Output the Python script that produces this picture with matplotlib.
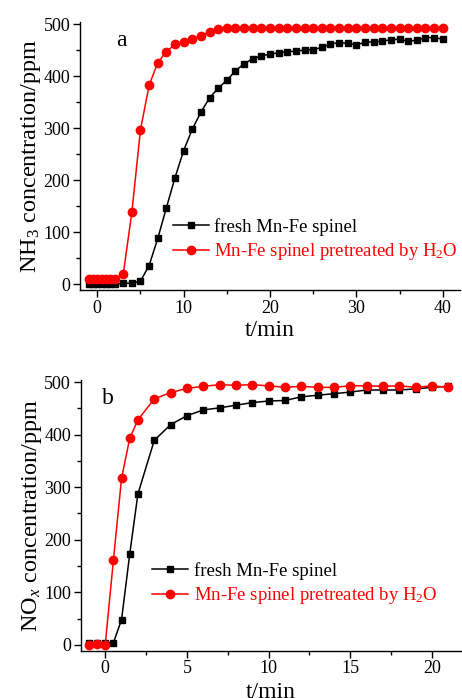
import matplotlib
matplotlib.use("Agg")
import matplotlib.pyplot as plt
from matplotlib.ticker import MultipleLocator

plt.rcParams['font.family'] = ['Liberation Serif', 'DejaVu Serif']
plt.rcParams['mathtext.fontset'] = 'custom'
plt.rcParams['mathtext.rm'] = 'Liberation Serif'
plt.rcParams['mathtext.it'] = 'Liberation Serif:italic'

# Panel a: NH3
a_t_fresh = [-1, -0.5, 0, 0.5, 1, 1.5, 2] + list(range(3, 41))
a_fresh = [0, 0, 0, 0, 0, 0, 0, 2, 2, 6, 36, 88, 147, 205, 257, 298, 331, 358, 377, 392,
           410, 424, 433, 439, 442, 445, 447, 448, 450, 451, 455, 462, 464, 463, 460,
           465, 466, 467, 470, 471, 467, 469, 474, 474, 471]
a_t_h2o = [-1, -0.5, 0, 0.5, 1, 1.5, 2] + list(range(3, 41))
a_h2o = [11, 11, 11, 11, 11, 11, 11, 19, 138, 297, 382, 426, 447, 461, 465, 471, 478,
         485, 490, 492, 492, 492, 492, 492, 492, 492, 492, 492, 492, 492, 492, 492, 492,
         492, 492, 492, 492, 492, 492, 492, 492, 492, 492, 492, 492]

# Panel b: NOx
b_t = [-1, -0.5, 0, 0.5, 1, 1.5, 2] + list(range(3, 22))
b_fresh = [3, 4, 4, 4, 48, 173, 287, 389, 419, 436, 447, 451, 456, 461, 464, 465, 472,
           475, 478, 481, 485, 485, 485, 487, 490, 492]
b_h2o = [0, 2, 0, 161, 317, 393, 428, 468, 480, 488, 492, 495, 494, 495, 493, 490, 492,
         490, 490, 493, 493, 492, 493, 490, 493, 490]

labels = ['fresh Mn-Fe spinel', 'Mn-Fe spinel pretreated by H$_2$O']

fig = plt.figure(figsize=(4.62, 6.98), dpi=100)
ax1 = fig.add_axes([0.1732, 0.5845, 0.8225, 0.384])
ax2 = fig.add_axes([0.1747, 0.0678, 0.824, 0.3878])

def style(ax, xmaj, xmin):
    for s in ['top', 'right']:
        ax.spines[s].set_visible(False)
    for s in ['left', 'bottom']:
        ax.spines[s].set_linewidth(1.0)
    ax.xaxis.set_major_locator(MultipleLocator(xmaj))
    ax.xaxis.set_minor_locator(MultipleLocator(xmin))
    ax.yaxis.set_major_locator(MultipleLocator(100))
    ax.yaxis.set_minor_locator(MultipleLocator(50))
    ax.tick_params(which='major', direction='out', length=5, width=1, labelsize=13, pad=2)
    ax.tick_params(which='minor', direction='out', length=3, width=1)

lw = 1.1
ax1.plot(a_t_fresh, a_fresh, color='black', marker='s', markersize=5, lw=lw, label=labels[0])
ax1.plot(a_t_h2o, a_h2o, color='red', marker='o', markersize=6, lw=lw, label=labels[1])
ax1.set_xlim(-2, 42)
ax1.set_ylim(-11, 504)
style(ax1, 10, 5)
ax1.set_xlabel('t/min', fontsize=17, labelpad=2)
ax1.set_ylabel('NH$_3$ concentration/ppm', fontsize=17.5, labelpad=0)
ax1.text(0.094, 0.91, 'a', transform=ax1.transAxes, fontsize=17)
ax1.legend(loc='upper left', bbox_to_anchor=(0.245, 0.27), frameon=False, fontsize=13.5,
           handlelength=1.9, handletextpad=0.3, labelspacing=0.3, labelcolor='linecolor',
           borderaxespad=0, borderpad=0)

ax2.plot(b_t, b_fresh, color='black', marker='s', markersize=5, lw=lw, label=labels[0])
ax2.plot(b_t, b_h2o, color='red', marker='o', markersize=6, lw=lw, label=labels[1])
ax2.set_xlim(-1.5, 21.8)
ax2.set_ylim(-11, 504)
style(ax2, 5, 2.5)
ax2.set_xlabel('t/min', fontsize=17, labelpad=3)
ax2.set_ylabel('NO$_\\mathit{x}$ concentration/ppm', fontsize=17.5, labelpad=0)
ax2.text(0.055, 0.91, 'b', transform=ax2.transAxes, fontsize=17)
ax2.legend(loc='upper left', bbox_to_anchor=(0.188, 0.328), frameon=False, fontsize=13.5,
           handlelength=1.9, handletextpad=0.3, labelspacing=0.3, labelcolor='linecolor',
           borderaxespad=0, borderpad=0)

fig.savefig('out.png', dpi=100)
